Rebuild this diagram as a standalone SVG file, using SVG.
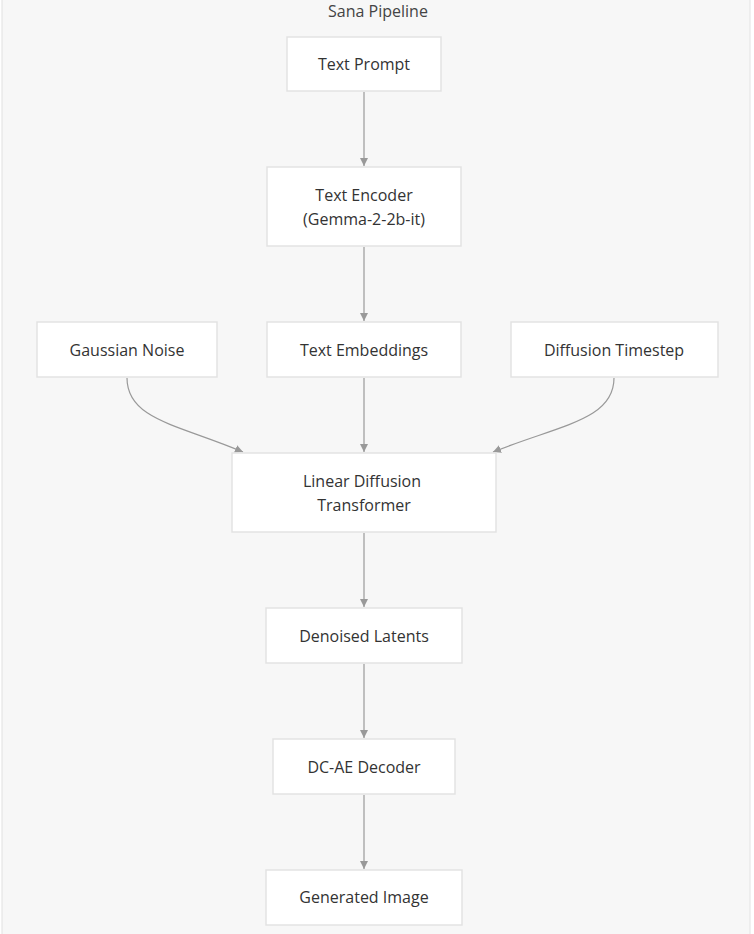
<svg xmlns="http://www.w3.org/2000/svg" width="754" height="934" viewBox="0 0 754 934">
<defs>
<style>
.bg{fill:#f7f7f7;stroke:#e2e2e2;stroke-width:1}
.node rect{fill:#ffffff;stroke:#e3e3e3;stroke-width:1.5}
.node text,.title{font-family:"Open Sans","Noto Sans","Liberation Sans",sans-serif;font-size:16px;fill:#333;text-anchor:middle}
.title{fill:#444}
.edge{fill:none;stroke:#999;stroke-width:1.2;marker-end:url(#arr)}
</style>
<marker id="arr" viewBox="0 0 10 10" refX="10" refY="5" markerWidth="8" markerHeight="8" markerUnits="userSpaceOnUse" orient="auto">
<path d="M0,0L10,5L0,10z" fill="#999"/>
</marker>
</defs>
<rect class="bg" x="2" y="-1" width="748" height="940"/>
<text class="title" x="378" y="17">Sana Pipeline</text>
<g id="connectors">
<path class="edge" d="M364,92V166"/>
<path class="edge" d="M364,247V321"/>
<path class="edge" d="M364,378V452"/>
<path class="edge" d="M127,378C127,420 180,425 243,452"/>
<path class="edge" d="M614,378C614,420 560,425 493,452"/>
<path class="edge" d="M364,533V607"/>
<path class="edge" d="M364,664V738"/>
<path class="edge" d="M364,795V869"/>
</g>
<g id="text-prompt" class="node"><rect x="287" y="37" width="154" height="54"/><text x="364" y="70">Text Prompt</text></g>
<g id="text-encoder" class="node"><rect x="267" y="167" width="194" height="79"/><text x="364" y="201">Text Encoder</text><text x="364" y="225">(Gemma-2-2b-it)</text></g>
<g id="gaussian-noise" class="node"><rect x="37" y="322" width="180" height="55"/><text x="127" y="356">Gaussian Noise</text></g>
<g id="text-embeddings" class="node"><rect x="267" y="322" width="194" height="55"/><text x="364" y="356">Text Embeddings</text></g>
<g id="diffusion-timestep" class="node"><rect x="511" y="322" width="207" height="55"/><text x="614" y="356">Diffusion Timestep</text></g>
<g id="ldt" class="node"><rect x="232" y="453" width="264" height="79"/><text x="362" y="487">Linear Diffusion</text><text x="364" y="511">Transformer</text></g>
<g id="denoised-latents" class="node"><rect x="266" y="608" width="196" height="55"/><text x="364" y="642">Denoised Latents</text></g>
<g id="dc-ae-decoder" class="node"><rect x="273" y="739" width="182" height="55"/><text x="364" y="773">DC-AE Decoder</text></g>
<g id="generated-image" class="node"><rect x="266" y="870" width="196" height="55"/><text x="364" y="903">Generated Image</text></g>
</svg>
